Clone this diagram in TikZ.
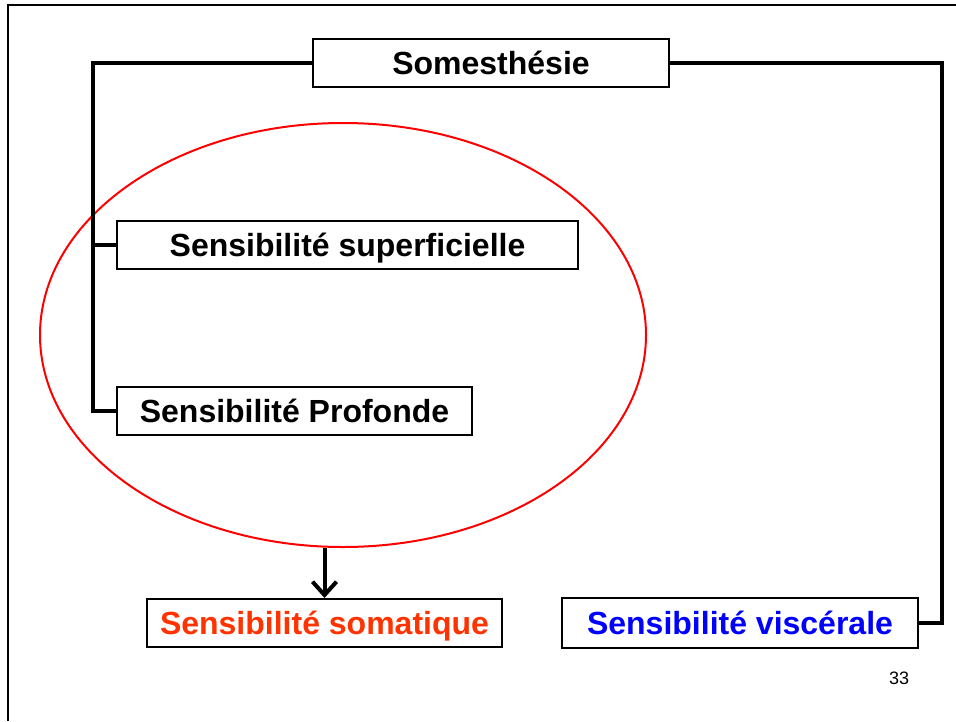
\documentclass[tikz,border=0pt]{standalone}
\usepackage{fontspec}
\setmainfont{Liberation Sans}
\usetikzlibrary{shapes.geometric,arrows.meta}
\definecolor{somared}{RGB}{255,51,0}
\definecolor{viscblue}{RGB}{0,0,255}
\begin{document}
\begin{tikzpicture}[x=0.75pt,y=-0.75pt,
  box/.style={draw=black,line width=1.5pt,fill=white,inner sep=0pt,
    text height=20pt,text depth=3pt,
    minimum height=36pt,font=\fontsize{24pt}{28pt}\selectfont\bfseries},
  link/.style={line width=3pt,line cap=rect,line join=miter},
  halo/.style={draw=red,line width=1.5pt,ellipse,inner sep=0pt}]
\useasboundingbox (0,0) rectangle (956,721);
% page frame
\draw[line width=1.5pt] (8,721) -- (8,5) -- (956,5);
% grouping ellipse
\node[halo,minimum width=454.5pt,minimum height=318pt] (ell) at (343,335) {};
% boxes
\node[box,minimum width=267pt] (som) at (491,63) {Somesthésie};
\node[box,minimum width=345.75pt] (sup) at (347.5,245) {Sensibilité superficielle};
\node[box,minimum width=266.25pt] (prof) at (294.5,411) {Sensibilité Profonde};
\node[box,minimum width=266.25pt,text=somared] (soma) at (324.5,623) {Sensibilité somatique};
\node[box,minimum width=267pt,minimum height=37pt,text=viscblue] (visc) at (740,623) {Sensibilité viscérale};
\node[font=\fontsize{13.5pt}{16pt}\selectfont] (pg) at (899,678) {33};
% connectors
\coordinate (lt) at (93,63);
\coordinate (rt) at (942,63);
\draw[link] (som.west) -- (lt) |- (prof.west);
\draw[link] (lt) |- (sup.west);
\draw[link] (som.east) -- (rt) |- (visc.east);
\draw[line width=3pt,-{Straight Barb[length=10pt,width=18pt,line width=3pt]}]
  (ell.south -| soma.north) -- (soma.north);
\end{tikzpicture}
\end{document}
